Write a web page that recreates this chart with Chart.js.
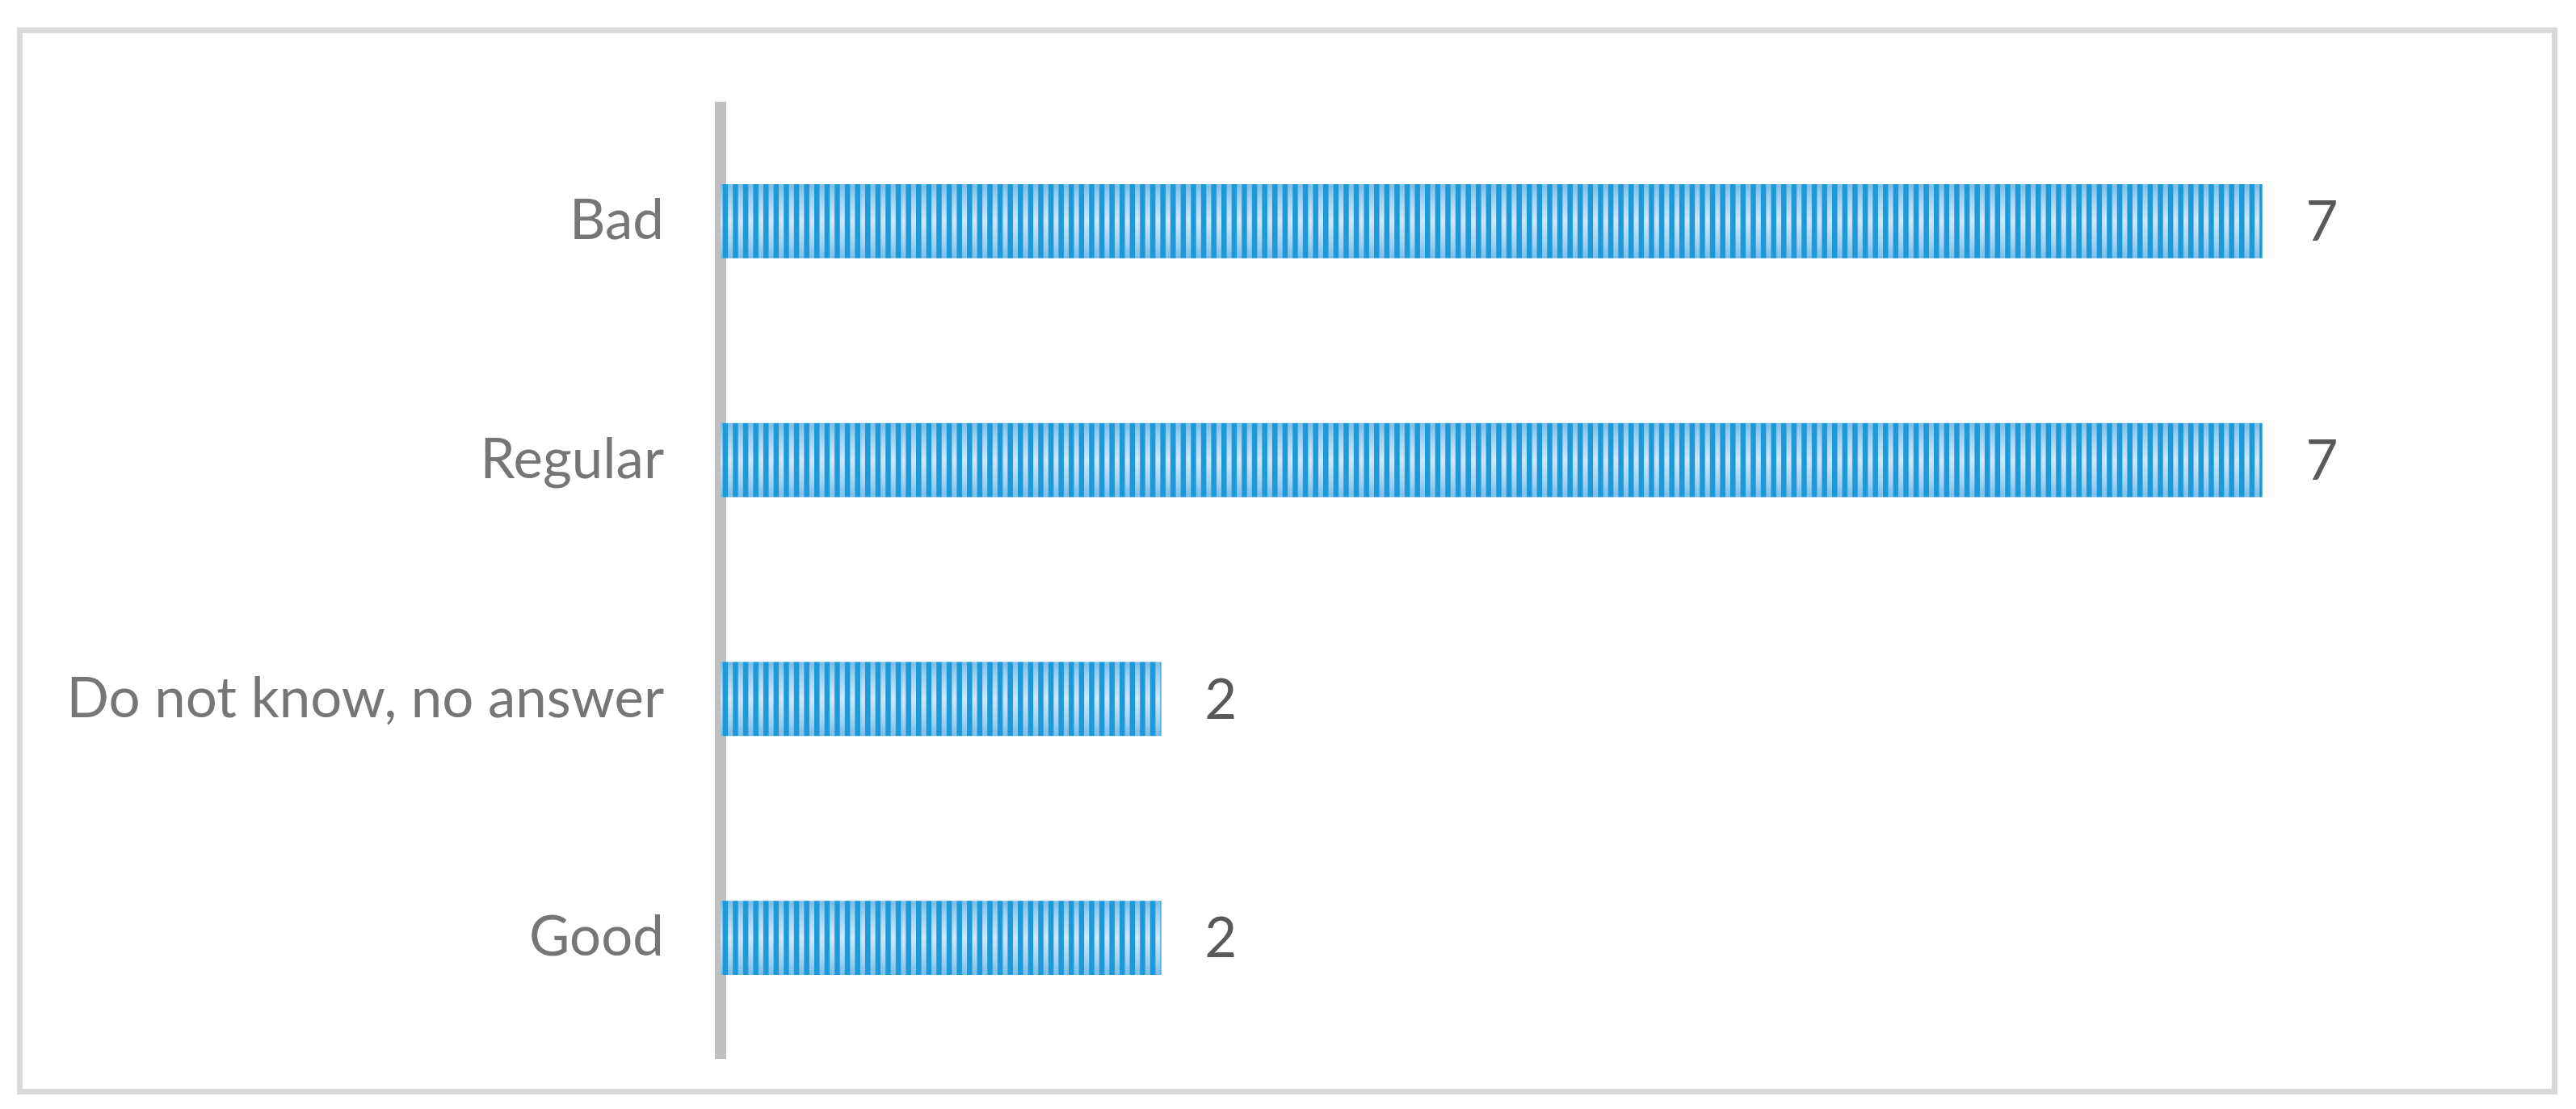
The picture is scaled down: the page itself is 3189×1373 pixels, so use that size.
<!DOCTYPE html>
<html>
<head>
<meta charset="utf-8">
<script src="https://cdn.jsdelivr.net/npm/chart.js@4/dist/chart.umd.min.js"></script>
<style>
  html, body { margin: 0; padding: 0; background: #fff; }
  #wrap { position: relative; width: 3189px; height: 1373px; }
  #frame {
    position: absolute; left: 21px; top: 34px; width: 3145px; height: 1321px;
    box-sizing: border-box; border: 7px solid #d9d9d9;
  }
  #chart { position: absolute; left: 0; top: 0; }
</style>
</head>
<body>
<div id="wrap">
  <div id="frame"></div>
  <canvas id="chart" width="3189" height="1373"></canvas>
</div>
<script>
// --- Data ---
const categories = ["Bad", "Regular", "Do not know, no answer", "Good"];
const answers = [7, 7, 2, 2];
const xMax = 8;

const FONT = "Lato";
const FONT_SIZE = 69;

// --- Striped fill (vertical stripes, light gaps shaded top to bottom) ---
const BAR_H = 91;
const STRIPE = 12.6;

function makeTile() {
  const tile = document.createElement("canvas");
  tile.width = 63;
  tile.height = BAR_H;
  const t = tile.getContext("2d");
  const g = t.createLinearGradient(0, 0, 0, BAR_H);
  g.addColorStop(0, "#7cbde8");
  g.addColorStop(0.18, "#a2d0f0");
  g.addColorStop(0.5, "#d0e7f8");
  g.addColorStop(0.82, "#a2d0f0");
  g.addColorStop(1, "#7cbde8");
  t.fillStyle = g;
  t.fillRect(0, 0, tile.width, BAR_H);
  t.fillStyle = "#1c99d8";
  for (let i = 0; i < 5; i++) {
    t.fillRect(i * STRIPE, 0, 6.5, BAR_H);
  }
  return tile;
}
const tile = makeTile();

function barFill(c) {
  const chart = c.chart;
  if (!chart.scales || !chart.scales.y) return "#1c99d8";
  const top = chart.scales.y.getPixelForValue(c.dataIndex) - BAR_H / 2;
  const p = chart.ctx.createPattern(tile, "repeat");
  p.setTransform(new DOMMatrix([1, 0, 0, 1, 0, top]));
  return p;
}

// --- Category axis line (thick grey rule along the plot's left edge) ---
const axisLine = {
  id: "axisLine",
  beforeDatasetsDraw(chart) {
    const { ctx, chartArea } = chart;
    ctx.save();
    ctx.fillStyle = "#bfbfbf";
    ctx.fillRect(chartArea.left - 7, chartArea.top, 14, chartArea.bottom - chartArea.top + 2);
    ctx.restore();
  }
};

// --- Value labels at bar ends ---
const valueLabels = {
  id: "valueLabels",
  afterDatasetsDraw(chart) {
    const ctx = chart.ctx;
    const meta = chart.getDatasetMeta(0);
    ctx.save();
    ctx.font = FONT_SIZE + "px " + FONT;
    ctx.fillStyle = "#595959";
    ctx.textAlign = "left";
    ctx.textBaseline = "middle";
    meta.data.forEach((bar, i) => {
      ctx.fillText(String(answers[i]), bar.x + 54, bar.y + 2);
    });
    ctx.restore();
  }
};

// --- Chart ---
new Chart(document.getElementById("chart"), {
  type: "bar",
  data: {
    labels: categories,
    datasets: [
      {
        data: answers,
        backgroundColor: barFill,
        borderWidth: 0,
        barThickness: BAR_H
      }
    ]
  },
  plugins: [axisLine, valueLabels],
  options: {
    indexAxis: "y",
    responsive: false,
    devicePixelRatio: 1,
    animation: false,
    layout: {
      padding: { left: 0, right: 116, top: 126, bottom: 64 }
    },
    plugins: { legend: { display: false }, tooltip: { enabled: false } },
    scales: {
      x: { display: false, min: 0, max: xMax },
      y: {
        afterFit: (s) => {
          s.width = 892;
          // tick padding must not push the plot area in
          s.paddingTop = 0;
          s.paddingBottom = 0;
        },
        grid: { display: false },
        border: { display: false },
        ticks: {
          padding: 62,
          color: "#767676",
          font: { family: FONT, size: FONT_SIZE }
        }
      }
    }
  }
});
</script>
</body>
</html>
